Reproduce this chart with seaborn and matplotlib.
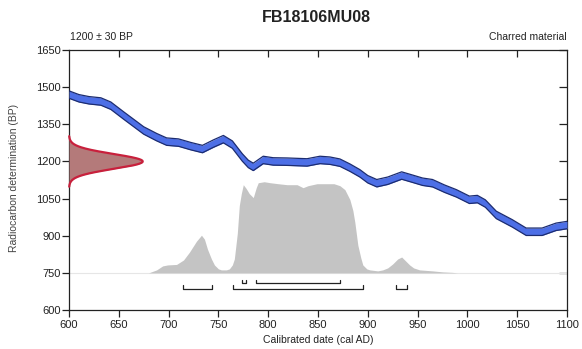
import numpy as np
import pandas as pd
import matplotlib
matplotlib.use("Agg")
import matplotlib.pyplot as plt
import seaborn as sns

# ---------------- data ----------------
title = "FB18106MU08"
c14_mean = 1200
c14_err = 30
material = "Charred material"

# calibration curve (cal AD, BP centre)
curve_years = [600, 610, 620, 632, 642, 655, 665, 675, 688, 698, 710, 722, 734,
               745, 755, 764, 774, 780, 785, 790, 795, 805, 819, 839, 852, 862,
               872, 882, 892, 900, 909, 920, 934, 945, 955, 965, 977, 989, 1002,
               1010, 1018, 1029, 1045, 1059, 1075, 1089, 1100]
curve_bp = [1470, 1455, 1447, 1442, 1425, 1385, 1355, 1325, 1298, 1280, 1276,
            1262, 1250, 1272, 1290, 1268, 1216, 1190, 1178, 1192, 1206, 1200,
            1199, 1196, 1206, 1203, 1195, 1175, 1152, 1128, 1112, 1122, 1143,
            1130, 1118, 1112, 1090, 1071, 1045, 1048, 1030, 984, 950, 916, 916,
            936, 943]
curve_err = 15

# posterior probability (relative units)
post_years = [680, 688, 694, 699, 708, 715, 721, 728, 733, 736, 739, 743, 746,
              750, 753, 758, 761, 764, 766, 769, 771, 773, 775, 778, 781, 785,
              788, 790, 796, 802, 810, 819, 829, 835, 840, 849, 859, 866, 872,
              877, 882, 885, 887, 890, 893, 895, 899, 902, 910, 915, 920, 925,
              930, 934, 938, 942, 946, 952, 965, 975, 985, 990]
post_prob = [0, 3, 7, 8, 8.5, 13, 21, 32, 38, 34, 24, 14, 8, 4, 3, 3, 4, 8, 14,
             40, 68, 80, 89, 85, 80, 76, 86, 91, 92, 91, 90, 89, 89, 86, 88, 90,
             90, 90, 88, 84, 74, 63, 51, 28, 15, 8, 4, 3, 2, 3, 5, 9, 14, 16,
             12, 8, 5, 3, 2, 1, 0.5, 0]

# highest probability ranges
ranges_68 = [(774, 778), (788, 872)]
ranges_95 = [(714, 744), (765, 895), (928, 939)]

# ---------------- style ----------------
sns.set_theme(style="ticks")
plt.rcParams['font.family'] = ['Liberation Sans', 'DejaVu Sans']

fig = plt.figure(figsize=(5.82, 3.49), dpi=100)
ax = fig.add_axes([69/582, 1-310/349, (567-69)/582, (310-50)/349])

xmin, xmax = 600, 1100
ymin, ymax = 600, 1650
post_base = 750
post_scale = 4.0

# posterior
ax.axhline(post_base, color="#e6e6e6", lw=0.8, zorder=1)
py = np.array(post_prob)
ax.fill_between(post_years, post_base, post_base + py * post_scale,
                color="#c4c4c4", lw=0, zorder=2)

# calibration curve band
cdf = pd.DataFrame({"year": curve_years, "bp": curve_bp})
cy = np.array(curve_bp, dtype=float)
ax.fill_between(curve_years, cy - curve_err, cy + curve_err,
                color="#4d6fe6", lw=0, zorder=3)
cdf_hi = cdf.assign(bp=cdf.bp + curve_err)
cdf_lo = cdf.assign(bp=cdf.bp - curve_err)
sns.lineplot(data=cdf_hi, x="year", y="bp", ax=ax, color="#1c2c70", lw=0.9,
             zorder=4, sort=False)
sns.lineplot(data=cdf_lo, x="year", y="bp", ax=ax, color="#1c2c70", lw=0.9,
             zorder=4, sort=False)

# radiocarbon measurement distribution along the y axis
yy = np.linspace(c14_mean - 3.4 * c14_err, c14_mean + 3.4 * c14_err, 200)
dens = np.exp(-0.5 * ((yy - c14_mean) / c14_err) ** 2)
xx = xmin + dens * 74
ax.fill_betweenx(yy, xmin, xx, color="#b47a7a", lw=0, zorder=5)
ax.plot(xx, yy, color="#c8203c", lw=1.6, zorder=6, clip_on=False)

# ranges
def draw_ranges(ranges, ylev, tick):
    for a, b in ranges:
        ax.plot([a, a, b, b], [ylev + tick, ylev, ylev, ylev + tick],
                color="#222222", lw=0.9, zorder=5)

draw_ranges(ranges_68, 710, 12)
draw_ranges(ranges_95, 685, 15)

# axes
ax.set_xlim(xmin, xmax)
ax.set_ylim(ymin, ymax)
ax.set_xticks(np.arange(600, 1101, 50))
ax.set_yticks(np.arange(600, 1651, 150))
for s in ax.spines.values():
    s.set_visible(True)
    s.set_color("#222222")
    s.set_linewidth(0.9)
ax.tick_params(axis="both", which="both", labelsize=8, colors="#222222",
               length=5, width=0.9, pad=1)
ax.tick_params(axis="x", pad=2)
ax.tick_params(top=True, right=True, labeltop=False, labelright=False)
ax.set_xlabel("")
ax.set_ylabel("")

# top and right ticks inward: use secondary axes
sec_x = ax.secondary_xaxis("top")
sec_x.set_xticks(np.arange(650, 1051, 50))
sec_x.tick_params(direction="in", length=5, width=0.9, labeltop=False,
                  colors="#222222")
sec_x.spines["top"].set_visible(False)
sec_y = ax.secondary_yaxis("right")
sec_y.set_yticks(np.arange(750, 1651, 150))
sec_y.tick_params(direction="in", length=6, width=0.9, labelright=False,
                  colors="#222222")
sec_y.spines["right"].set_visible(False)
ax.tick_params(top=False, right=False)

# text
fig.text(316/582, 1-18/349, title, ha="center", va="center",
         fontsize=11.5, fontweight="bold", color="#222222")
fig.text(70/582, 1-37/349, f"{c14_mean} \u00b1 {c14_err} BP", ha="left",
         va="center", fontsize=7.5, color="#222222")
fig.text(567/582, 1-37/349, material, ha="right", va="center",
         fontsize=7.5, color="#222222")
fig.text(14/582, 1-178/349, "Radiocarbon determination (BP)", rotation=90,
         ha="center", va="center", fontsize=7.5, color="#444444")
fig.text(318/582, 1-340/349, "Calibrated date (cal AD)", ha="center",
         va="center", fontsize=7.5, color="#222222")

fig.savefig("out.png", dpi=100)
